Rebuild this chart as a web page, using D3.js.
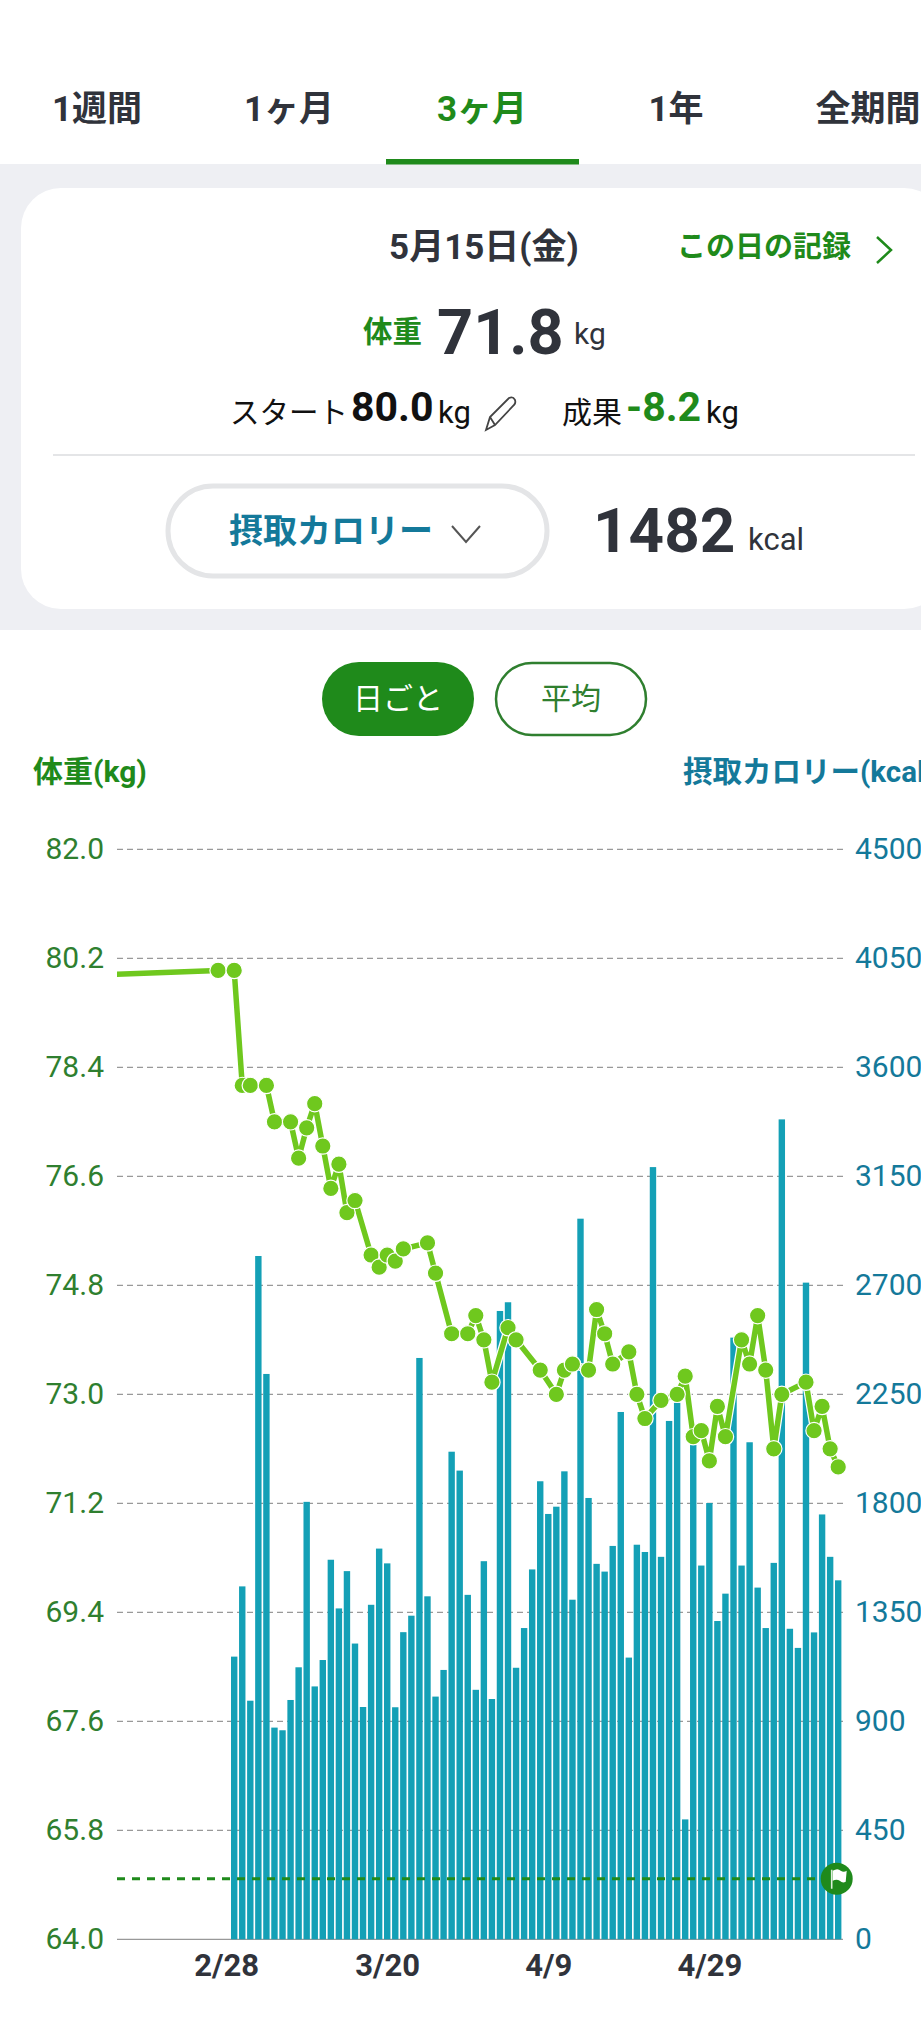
<!DOCTYPE html>
<html lang="ja">
<head>
<meta charset="UTF-8" />
<title>体重と摂取カロリー</title>
<script src="https://d3js.org/d3.v7.min.js"></script>
<style>
    html, body { margin: 0; padding: 0; background: #fff; overflow: hidden; }
    svg { display: block; font-family: Roboto, "Noto Sans CJK JP", sans-serif; }
</style>
</head>
<body>
<script>
// data
const tabs = ['1週間', '1ヶ月', '3ヶ月', '1年', '全期間'];
const weightTicks = [64, 65.8, 67.6, 69.4, 71.2, 73, 74.8, 76.6, 78.4, 80.2, 82];
const kcalTicks = [0, 450, 900, 1350, 1800, 2250, 2700, 3150, 3600, 4050, 4500];
const dateTicks = ['2/28', '3/20', '4/9', '4/29'];
const goalWeight = 65;

// one bar per day, 3/1 to 5/15
const kcalValues = [
    1167, 1457, 985, 2821, 2334, 874, 863, 988, 1123, 1806,
    1044, 1153, 1567, 1366, 1520, 1221, 959, 1381, 1613, 1552,
    958, 1268, 1336, 2400, 1416, 1002, 1112, 2013, 1935, 1422,
    1030, 1561, 992, 2594, 2630, 1121, 1285, 1527, 1891, 1756,
    1786, 1932, 1402, 2975, 1822, 1550, 1518, 1624, 2177, 1163,
    1629, 1599, 3188, 1579, 2140, 2215, 495, 2041, 1543, 1801,
    1314, 1427, 2484, 1543, 2052, 1452, 1285, 1554, 3385, 1282,
    1203, 2711, 1267, 1754, 1579, 1482
];

// days without a weigh-in are simply missing
const weightDates = [
    '2/13', '2/27', '3/1', '3/2', '3/3', '3/5', '3/6', '3/8', '3/9', '3/10',
    '3/11', '3/12', '3/13', '3/14', '3/15', '3/16', '3/18', '3/19', '3/20', '3/21',
    '3/22', '3/25', '3/26', '3/28', '3/30', '3/31', '4/1', '4/2', '4/4', '4/5',
    '4/8', '4/10', '4/11', '4/12', '4/14', '4/15', '4/16', '4/17', '4/19', '4/20',
    '4/21', '4/23', '4/25', '4/26', '4/27', '4/28', '4/29', '4/30', '5/1', '5/3',
    '5/4', '5/5', '5/6', '5/7', '5/8', '5/11', '5/12', '5/13', '5/14', '5/15'
];
const weightValues = [
    79.93, 80.0, 80.0, 78.1, 78.1, 78.1, 77.5, 77.5, 76.9, 77.4,
    77.8, 77.1, 76.4, 76.8, 76.0, 76.2, 75.3, 75.1, 75.3, 75.2,
    75.4, 75.5, 75.0, 74.0, 74.0, 74.3, 73.9, 73.2, 74.1, 73.9,
    73.4, 73.0, 73.4, 73.5, 73.4, 74.4, 74.0, 73.5, 73.7, 73.0,
    72.6, 72.9, 73.0, 73.3, 72.3, 72.4, 71.9, 72.8, 72.3, 73.9,
    73.5, 74.3, 73.4, 72.1, 73.0, 73.2, 72.4, 72.8, 72.1, 71.8
];

const GREEN = '#1f8a1b';
const AXIS_GREEN = '#2f7f2f';
const LINE_GREEN = '#6fc81e';
const TEAL = '#14799a';
const BAR_TEAL = '#14a0b6';
const DARK = '#30333b';
const PALE = '#e4e5e7';

const width = 921, height = 2027;
const plotLeft = 117, plotRight = 843, plotTop = 849.3, plotBottom = 1939.3;

const svg = d3.select('body').append('svg').attr('width', width).attr('height', height);

function label(x, y, str, size, weight, fill, anchor) {
    return svg.append('text')
        .attr('x', x).attr('y', y)
        .attr('font-size', size).attr('font-weight', weight || 400)
        .attr('fill', fill || DARK).attr('text-anchor', anchor || 'start')
        .text(str);
}

// ---- header ----
svg.append('rect').attr('y', 164).attr('width', width).attr('height', 466).attr('fill', '#eeeff3');
svg.append('rect').attr('x', 21).attr('y', 188).attr('width', 923).attr('height', 421)
    .attr('rx', 40).attr('fill', '#fff');

const tabCenters = [97, 289, 482, 676, 868];
tabs.forEach((t, i) => label(tabCenters[i], 121, t, 35, 700, i === 2 ? GREEN : DARK, 'middle'));
svg.append('rect').attr('x', 386).attr('y', 159).attr('width', 193).attr('height', 5.5).attr('fill', GREEN);

label(484, 259, '5月15日(金)', 35, 700, DARK, 'middle');
label(677, 257, 'この日の記録', 29, 700, GREEN);
svg.append('path').attr('d', 'M877 237 L891 250 L877 263').attr('fill', 'none').attr('stroke', GREEN).attr('stroke-width', 2.5);

label(363, 342, '体重', 29.5, 700, GREEN);
label(437, 354, '71.8', 63, 700);
label(574, 344, 'kg', 30, 400);

label(230, 423, 'スタート', 29.5, 400, '#111');
label(351, 421, '80.0', 41, 700, '#111');
label(438, 423, 'kg', 31, 400, '#111');
svg.append('path').attr('d', 'M486 430 L490 417 L509 398 Q513 396 515 400 Q516 403 514 405 L495 425 Z M490 417 L495 425')
    .attr('fill', 'none').attr('stroke', '#444').attr('stroke-width', 1.8);
label(562, 423, '成果', 30, 400, '#111');
label(626, 421, '-8.2', 41, 700, GREEN);
label(706, 423, 'kg', 31, 400, '#111');

svg.append('rect').attr('x', 53).attr('y', 454).attr('width', 862).attr('height', 2).attr('fill', PALE);

svg.append('rect').attr('x', 168).attr('y', 486).attr('width', 379).attr('height', 90).attr('rx', 45)
    .attr('fill', '#fff').attr('stroke', PALE).attr('stroke-width', 5);
label(229, 543, '摂取カロリー', 34, 700, TEAL);
svg.append('path').attr('d', 'M452 526 L466 542 L480 526').attr('fill', 'none').attr('stroke', '#555').attr('stroke-width', 2);
label(593, 552, '1482', 62, 700);
label(748, 550, 'kcal', 31, 400);

// ---- toggle buttons ----
svg.append('rect').attr('x', 322).attr('y', 662).attr('width', 152).attr('height', 74).attr('rx', 37).attr('fill', GREEN);
label(398, 709, '日ごと', 30, 400, '#fff', 'middle');
svg.append('rect').attr('x', 496).attr('y', 663).attr('width', 150).attr('height', 72).attr('rx', 36)
    .attr('fill', '#fff').attr('stroke', AXIS_GREEN).attr('stroke-width', 2.5);
label(571, 709, '平均', 30, 400, AXIS_GREEN, 'middle');

label(33, 782, '体重(kg)', 30, 700, GREEN);
label(683, 782, '摂取カロリー(kcal)', 29.5, 700, TEAL);

// ---- chart ----
const parseDay = (s) => d3.utcParse('%Y/%m/%d')('2026/' + s);
const barDays = d3.utcDay.range(parseDay('3/1'), d3.utcDay.offset(parseDay('5/15'), 1));

const x = d3.scaleUtc().domain([parseDay('3/1'), parseDay('5/15')]).range([234.2, 838.2]);
const yWeight = d3.scaleLinear().domain([64, 82]).range([plotBottom, plotTop]);
const yKcal = d3.scaleLinear().domain([0, 4500]).range([plotBottom, plotTop]);

svg.append('clipPath').attr('id', 'plot-clip').append('rect')
    .attr('x', plotLeft).attr('y', plotTop - 20)
    .attr('width', plotRight + 10 - plotLeft).attr('height', plotBottom - plotTop + 20);

// gridlines sit behind the bars
svg.append('g').selectAll('line').data(weightTicks.slice(1)).enter().append('line')
    .attr('x1', plotLeft).attr('x2', plotRight)
    .attr('y1', (d) => yWeight(d)).attr('y2', (d) => yWeight(d))
    .attr('stroke', '#999').attr('stroke-width', 1.3).attr('stroke-dasharray', '6 4');
svg.append('line').attr('x1', plotLeft).attr('x2', plotRight)
    .attr('y1', plotBottom).attr('y2', plotBottom).attr('stroke', '#999').attr('stroke-width', 1.2);

svg.append('g').selectAll('rect').data(kcalValues).enter().append('rect')
    .attr('x', (d, i) => x(barDays[i]) - 3.2)
    .attr('width', 6.4)
    .attr('y', (d) => yKcal(d))
    .attr('height', (d) => plotBottom - yKcal(d))
    .attr('fill', BAR_TEAL);

// goal line
svg.append('line').attr('x1', plotLeft).attr('x2', 822)
    .attr('y1', yWeight(goalWeight)).attr('y2', yWeight(goalWeight))
    .attr('stroke', GREEN).attr('stroke-width', 2.8).attr('stroke-dasharray', '8 7');

const flag = svg.append('g').attr('transform', `translate(836.7,${yWeight(goalWeight)})`);
flag.append('circle').attr('r', 16).attr('fill', GREEN);
flag.append('path').attr('d', 'M-5 -9 L-5 10').attr('stroke', '#dfeedd').attr('stroke-width', 1.6);
flag.append('path').attr('d', 'M-4 -8 Q1 -11 4 -8 Q7 -6 10 -8 L9 3 Q6 5 3 2 Q0 0 -4 2 Z').attr('fill', '#fff');

// weight line with white casing, then the points
const weightPoints = weightDates.map((d, i) => [x(parseDay(d)), yWeight(weightValues[i])]);
const weightLine = d3.line();
const lineLayer = svg.append('g').attr('clip-path', 'url(#plot-clip)');
lineLayer.append('path').attr('d', weightLine(weightPoints))
    .attr('fill', 'none').attr('stroke', '#fff').attr('stroke-width', 8).attr('stroke-linejoin', 'round');
lineLayer.append('path').attr('d', weightLine(weightPoints))
    .attr('fill', 'none').attr('stroke', LINE_GREEN).attr('stroke-width', 5.5).attr('stroke-linejoin', 'round');
lineLayer.selectAll('circle').data(weightPoints).enter().append('circle')
    .attr('cx', (d) => d[0]).attr('cy', (d) => d[1]).attr('r', 8.2)
    .attr('fill', LINE_GREEN).attr('stroke', '#fff').attr('stroke-width', 1.2);

// axes
const leftAxis = d3.axisLeft(yWeight).tickValues(weightTicks).tickFormat((d) => d.toFixed(1)).tickSize(0).tickPadding(13);
const rightAxis = d3.axisRight(yKcal).tickValues(kcalTicks).tickFormat((d) => String(d)).tickSize(0).tickPadding(12);
const bottomAxis = d3.axisBottom(x).tickValues(dateTicks.map(parseDay)).tickFormat(d3.utcFormat('%-m/%-d')).tickSize(0).tickPadding(15);

const gLeft = svg.append('g').attr('transform', `translate(${plotLeft},0)`).call(leftAxis);
const gRight = svg.append('g').attr('transform', `translate(${plotRight},0)`).call(rightAxis);
const gBottom = svg.append('g').attr('transform', `translate(0,${plotBottom})`).call(bottomAxis);
[gLeft, gRight, gBottom].forEach((g) => {
    g.select('.domain').remove();
    g.attr('font-family', null);
});
gLeft.selectAll('text').attr('font-size', 30).attr('fill', AXIS_GREEN);
gRight.selectAll('text').attr('font-size', 30).attr('fill', TEAL);
gBottom.selectAll('text').attr('font-size', 31).attr('font-weight', 700).attr('fill', DARK);
</script>
</body>
</html>
